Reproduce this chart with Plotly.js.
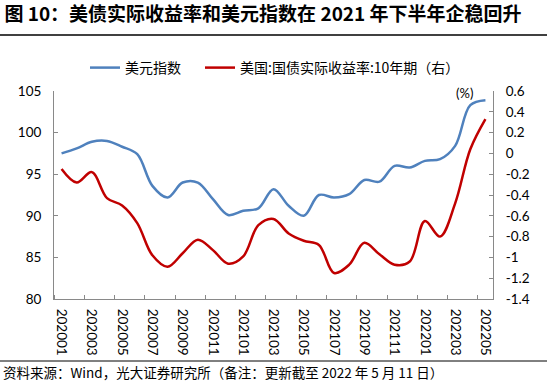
<!DOCTYPE html>
<html>
<head>
<meta charset="utf-8">
<script src="https://cdn.plot.ly/plotly-3.0.1.min.js"></script>
<style>
html,body{margin:0;padding:0;background:#fff;}
#chart{width:550px;height:387px;}
</style>
</head>
<body>
<div id="chart"></div>
<script>
// ---- data ----
const months = ['202001','202002','202003','202004','202005','202006','202007','202008','202009','202010','202011','202012',
                '202101','202102','202103','202104','202105','202106','202107','202108','202109','202110','202111','202112',
                '202201','202202','202203','202204','202205'];
const dollarIndex = [97.5, 98.1, 98.9, 99.0, 98.3, 97.4, 93.6, 92.2, 94.0, 94.0, 92.0, 90.1,
                     90.6, 90.9, 93.2, 91.2, 90.0, 92.5, 92.2, 92.6, 94.3, 94.1, 96.0, 95.8,
                     96.6, 96.8, 98.4, 103.3, 103.9];
const realYield10y = [-0.15, -0.28, -0.18, -0.43, -0.50, -0.67, -0.98, -1.09, -0.96, -0.83, -0.93, -1.06,
                      -0.99, -0.69, -0.63, -0.77, -0.84, -0.88, -1.15, -1.07, -0.86, -0.97, -1.07, -1.04,
                      -0.65, -0.80, -0.48, 0.04, 0.33];
const leftTicks = [80, 85, 90, 95, 100, 105];
const rightTicks = [-1.4, -1.2, -1, -0.8, -0.6, -0.4, -0.2, 0, 0.2, 0.4, 0.6];
const seriesNames = ['美元指数', '美国:国债实际收益率:10年期（右）'];
const titleText = '图 10：美债实际收益率和美元指数在 2021 年下半年企稳回升';
const sourceText = '资料来源：Wind，光大证券研究所（备注：更新截至 2022 年 5 月 11 日）';
const unitText = '(%)';

// ---- build ----
const idx = months.map((m, i) => i);
const labelIdx = idx.filter(i => i % 2 === 0);
const boundaryTicks = idx.filter(i => i % 2 === 0).map(i => i - 0.5);

const W = 550, H = 387;
const M = {l: 54, r: 57, t: 91, b: 88};
const pw = W - M.l - M.r, ph = H - M.t - M.b;
const px = x => (x - M.l) / pw;
const py = y => (H - M.b - y) / ph;

const axisColor = '#898989';
const tickFont = {family: 'Lato, "Liberation Sans", sans-serif', size: 13.5, color: '#000'};
const cjk = '"Noto Sans CJK SC", "Noto Sans", sans-serif';
const legendFont = {family: cjk, size: 14, color: '#000'};

const traces = [
  {x: idx, y: dollarIndex, name: seriesNames[0], type: 'scatter', mode: 'lines',
   line: {color: '#4F81BD', width: 2.5, shape: 'spline', smoothing: 1}, yaxis: 'y', legend: 'legend'},
  {x: idx, y: realYield10y, name: seriesNames[1], type: 'scatter', mode: 'lines',
   line: {color: '#C00000', width: 2.5, shape: 'spline', smoothing: 1}, yaxis: 'y2', legend: 'legend2'}
];

const layout = {
  width: W, height: H,
  margin: M,
  paper_bgcolor: '#fff', plot_bgcolor: '#fff',
  showlegend: true,
  title: {text: titleText, xref: 'container', yref: 'container', x: 0.008, xanchor: 'left',
          y: 1 - 14 / H, yanchor: 'middle',
          font: {family: cjk, size: 19, weight: 'bold', color: '#000'}},
  legend: {orientation: 'h', x: px(85), xanchor: 'left', y: py(68), yanchor: 'middle',
           font: legendFont, bgcolor: 'rgba(0,0,0,0)'},
  legend2: {orientation: 'h', x: px(200), xanchor: 'left', y: py(68), yanchor: 'middle',
           font: legendFont, bgcolor: 'rgba(0,0,0,0)'},
  xaxis: {range: [-0.5, months.length - 0.5], tickmode: 'array', tickvals: labelIdx,
          ticktext: labelIdx.map(i => months[i]), tickangle: 90, ticks: '',
          minor: {tickmode: 'array', tickvals: boundaryTicks, ticks: 'inside', ticklen: 4, tickcolor: axisColor, tickwidth: 1},
          showline: true, linecolor: axisColor, linewidth: 1, showgrid: false, zeroline: false,
          tickfont: tickFont, ticklabelstandoff: 6, fixedrange: true},
  yaxis: {range: [80, 105], tickmode: 'array', tickvals: leftTicks, ticktext: leftTicks.map(String),
          ticks: 'inside', ticklen: 4, tickcolor: axisColor, showline: true, linecolor: axisColor,
          showgrid: false, zeroline: false, tickfont: tickFont, ticklabelstandoff: 9},
  yaxis2: {range: [-1.4, 0.6], overlaying: 'y', side: 'right', tickmode: 'array', tickvals: rightTicks,
           ticktext: rightTicks.map(v => String(Math.round(v * 10) / 10)),
           ticks: 'inside', ticklen: 4, tickcolor: axisColor, showline: true, linecolor: axisColor,
           showgrid: false, zeroline: false, tickfont: tickFont, ticklabelstandoff: 9},
  shapes: [
    {type: 'line', xref: 'paper', yref: 'paper', x0: px(0), x1: px(547), y0: py(35), y1: py(35),
     line: {color: '#000', width: 1.5}},
    {type: 'line', xref: 'paper', yref: 'paper', x0: px(0), x1: px(547), y0: py(361), y1: py(361),
     line: {color: '#000', width: 1}}
  ],
  annotations: [
    {text: unitText, xref: 'paper', yref: 'paper', x: px(464), y: py(93), xanchor: 'center', yanchor: 'middle',
     showarrow: false, font: {family: tickFont.family, size: 13, color: '#000'}},
    {text: sourceText, xref: 'paper', yref: 'paper', x: px(1), y: py(372), xanchor: 'left', yanchor: 'middle',
     showarrow: false, font: {family: cjk, size: 13.5, color: '#000'}}
  ]
};

Plotly.newPlot('chart', traces, layout, {displayModeBar: false, staticPlot: true});
</script>
</body>
</html>
